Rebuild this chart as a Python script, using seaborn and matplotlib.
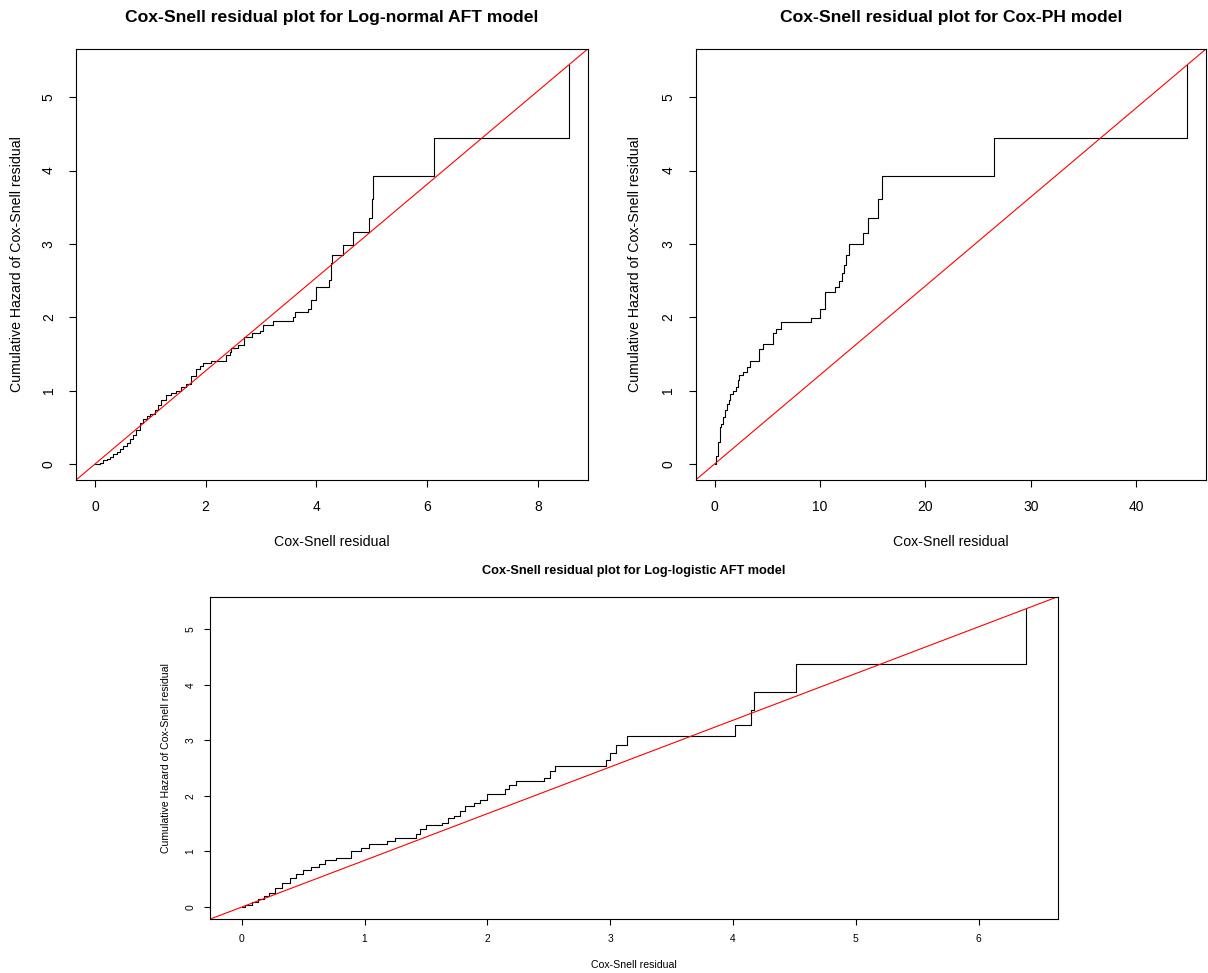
import numpy as np
import pandas as pd
import matplotlib
matplotlib.use("Agg")
import matplotlib.pyplot as plt
import seaborn as sns

# Cumulative hazard of Cox-Snell residuals (step points: residual, cumulative hazard)
lognormal_resid = [0.00, 0.09, 0.15, 0.21, 0.27, 0.33, 0.39, 0.45, 0.51, 0.57,
                   0.63, 0.69, 0.75, 0.81, 0.87, 0.94, 1.00, 1.08, 1.14, 1.20,
                   1.29, 1.38, 1.47, 1.56, 1.65, 1.74, 1.83, 1.90, 1.96, 2.10,
                   2.37, 2.44, 2.46, 2.58, 2.70, 2.83, 2.98, 3.04, 3.22, 3.58,
                   3.61, 3.85, 3.91, 4.00, 4.22, 4.26, 4.28, 4.49, 4.67, 4.95,
                   5.00, 5.02, 6.13, 8.56]
lognormal_cumhaz = [0.00, 0.02, 0.05, 0.07, 0.10, 0.14, 0.17, 0.21, 0.24, 0.29,
                    0.34, 0.40, 0.47, 0.56, 0.61, 0.65, 0.68, 0.73, 0.80, 0.87,
                    0.94, 0.97, 1.00, 1.05, 1.09, 1.20, 1.29, 1.34, 1.375, 1.41,
                    1.48, 1.53, 1.585, 1.62, 1.73, 1.79, 1.82, 1.89, 1.95, 2.00,
                    2.07, 2.12, 2.23, 2.42, 2.51, 2.74, 2.85, 2.99, 3.16, 3.35,
                    3.61, 3.93, 4.44, 5.44]

coxph_resid = [0.00, 0.14, 0.31, 0.48, 0.65, 0.82, 1.00, 1.17, 1.34, 1.51,
               1.79, 2.03, 2.20, 2.37, 2.71, 3.06, 3.40, 4.26, 4.60, 5.56,
               5.80, 6.32, 9.17, 9.99, 10.44, 11.47, 11.80, 12.08, 12.30, 12.50,
               12.74, 14.07, 14.56, 15.50, 15.86, 26.54, 44.83]
coxph_cumhaz = [0.00, 0.11, 0.30, 0.50, 0.55, 0.64, 0.73, 0.82, 0.87, 0.96,
                1.00, 1.05, 1.14, 1.21, 1.25, 1.32, 1.41, 1.57, 1.63, 1.78,
                1.84, 1.94, 1.99, 2.12, 2.34, 2.42, 2.50, 2.60, 2.72, 2.85,
                3.00, 3.15, 3.35, 3.61, 3.93, 4.44, 5.44]

loglogistic_resid = [0.00, 0.03, 0.08, 0.13, 0.18, 0.22, 0.27, 0.33, 0.39, 0.44,
                     0.50, 0.56, 0.63, 0.68, 0.77, 0.89, 0.97, 1.04, 1.18, 1.25,
                     1.42, 1.45, 1.50, 1.63, 1.68, 1.73, 1.78, 1.82, 1.89, 1.94,
                     2.00, 2.14, 2.18, 2.23, 2.46, 2.51, 2.55, 2.97, 3.00, 3.05,
                     3.14, 4.02, 4.15, 4.17, 4.51, 6.39]
loglogistic_cumhaz = [0.00, 0.04, 0.10, 0.14, 0.20, 0.26, 0.35, 0.44, 0.53, 0.60,
                      0.66, 0.72, 0.78, 0.84, 0.89, 1.00, 1.07, 1.13, 1.19, 1.24,
                      1.31, 1.41, 1.47, 1.51, 1.60, 1.64, 1.73, 1.82, 1.88, 1.93,
                      2.03, 2.12, 2.19, 2.26, 2.33, 2.44, 2.53, 2.64, 2.77, 2.91,
                      3.08, 3.28, 3.54, 3.87, 4.37, 5.37]

titles = ["Cox-Snell residual plot for Log-normal AFT model",
          "Cox-Snell residual plot for Cox-PH model",
          "Cox-Snell residual plot for Log-logistic AFT model"]
xticks = [[0, 2, 4, 6, 8], [0, 10, 20, 30, 40], [0, 1, 2, 3, 4, 5, 6]]
yticks = [0, 1, 2, 3, 4, 5]
xlabel = "Cox-Snell residual"
ylabel = "Cumulative Hazard of Cox-Snell residual"

sns.set_style("white")
plt.rcParams["font.family"] = ["Liberation Sans", "DejaVu Sans"]

W, H = 1208, 973
fig = plt.figure(figsize=(W / 100, H / 100), dpi=100)


def px_axes(left, top, right, bottom):
    return fig.add_axes([left / W, 1 - bottom / H, (right - left) / W, (bottom - top) / H])


panels = [
    dict(box=(76, 49, 587.7, 480), x=lognormal_resid, y=lognormal_cumhaz,
         fs=10.0, lfs=10.2, tfs=12.6, tick_len=5.0, tick_pad=9.5, xl_off=62, yl_off=59, t_off=32),
    dict(box=(695.6, 49, 1206, 480), x=coxph_resid, y=coxph_cumhaz,
         fs=10.0, lfs=10.2, tfs=12.6, tick_len=5.0, tick_pad=9.5, xl_off=62, yl_off=61, t_off=32),
    dict(box=(210.4, 596.7, 1057.8, 919), x=loglogistic_resid, y=loglogistic_cumhaz,
         fs=7.4, lfs=7.6, tfs=9.2, tick_len=4.3, tick_pad=6.5, xl_off=46, yl_off=44, t_off=26),
]

for i, p in enumerate(panels):
    left, top, right, bottom = p["box"]
    ax = px_axes(left, top, right, bottom)
    df = pd.DataFrame({"resid": p["x"], "cumhaz": p["y"]})

    sns.lineplot(data=df, x="resid", y="cumhaz", ax=ax, color="black",
                 linewidth=0.8, drawstyle="steps-post", estimator=None, sort=False)

    # reference line through the origin and the last step point
    ax.axline((0, 0), (df["resid"].iloc[-1], df["cumhaz"].iloc[-1]),
              color="red", linewidth=0.8)

    xr = df["resid"].max() - df["resid"].min()
    yr = df["cumhaz"].max() - df["cumhaz"].min()
    ax.set_xlim(df["resid"].min() - 0.04 * xr, df["resid"].max() + 0.04 * xr)
    ax.set_ylim(df["cumhaz"].min() - 0.04 * yr, df["cumhaz"].max() + 0.04 * yr)

    ax.set_xticks(xticks[i])
    ax.set_yticks(yticks)
    ax.tick_params(axis="both", direction="out", length=p["tick_len"], width=0.8,
                   color="black", labelsize=p["fs"], pad=p["tick_pad"],
                   labelcolor="black", bottom=True, left=True)
    for lab in ax.get_yticklabels():
        lab.set_rotation(90)
        lab.set_va("center")

    for s in ax.spines.values():
        s.set_visible(True)
        s.set_color("black")
        s.set_linewidth(0.8)

    wpx, hpx = right - left, bottom - top
    ax.set_xlabel(xlabel, fontsize=p["lfs"], color="black")
    ax.xaxis.label.set_va("center")
    ax.xaxis.set_label_coords(0.5, -p["xl_off"] / hpx)
    ax.set_ylabel(ylabel, fontsize=p["lfs"], color="black")
    ax.yaxis.label.set_va("center")
    ax.yaxis.set_label_coords(-p["yl_off"] / wpx, 0.5)

    ax.set_title(titles[i], fontsize=p["tfs"], fontweight="bold", color="black",
                 y=1 + p["t_off"] / hpx, va="center", pad=0)

fig.savefig("out.png", dpi=100, facecolor="white")
